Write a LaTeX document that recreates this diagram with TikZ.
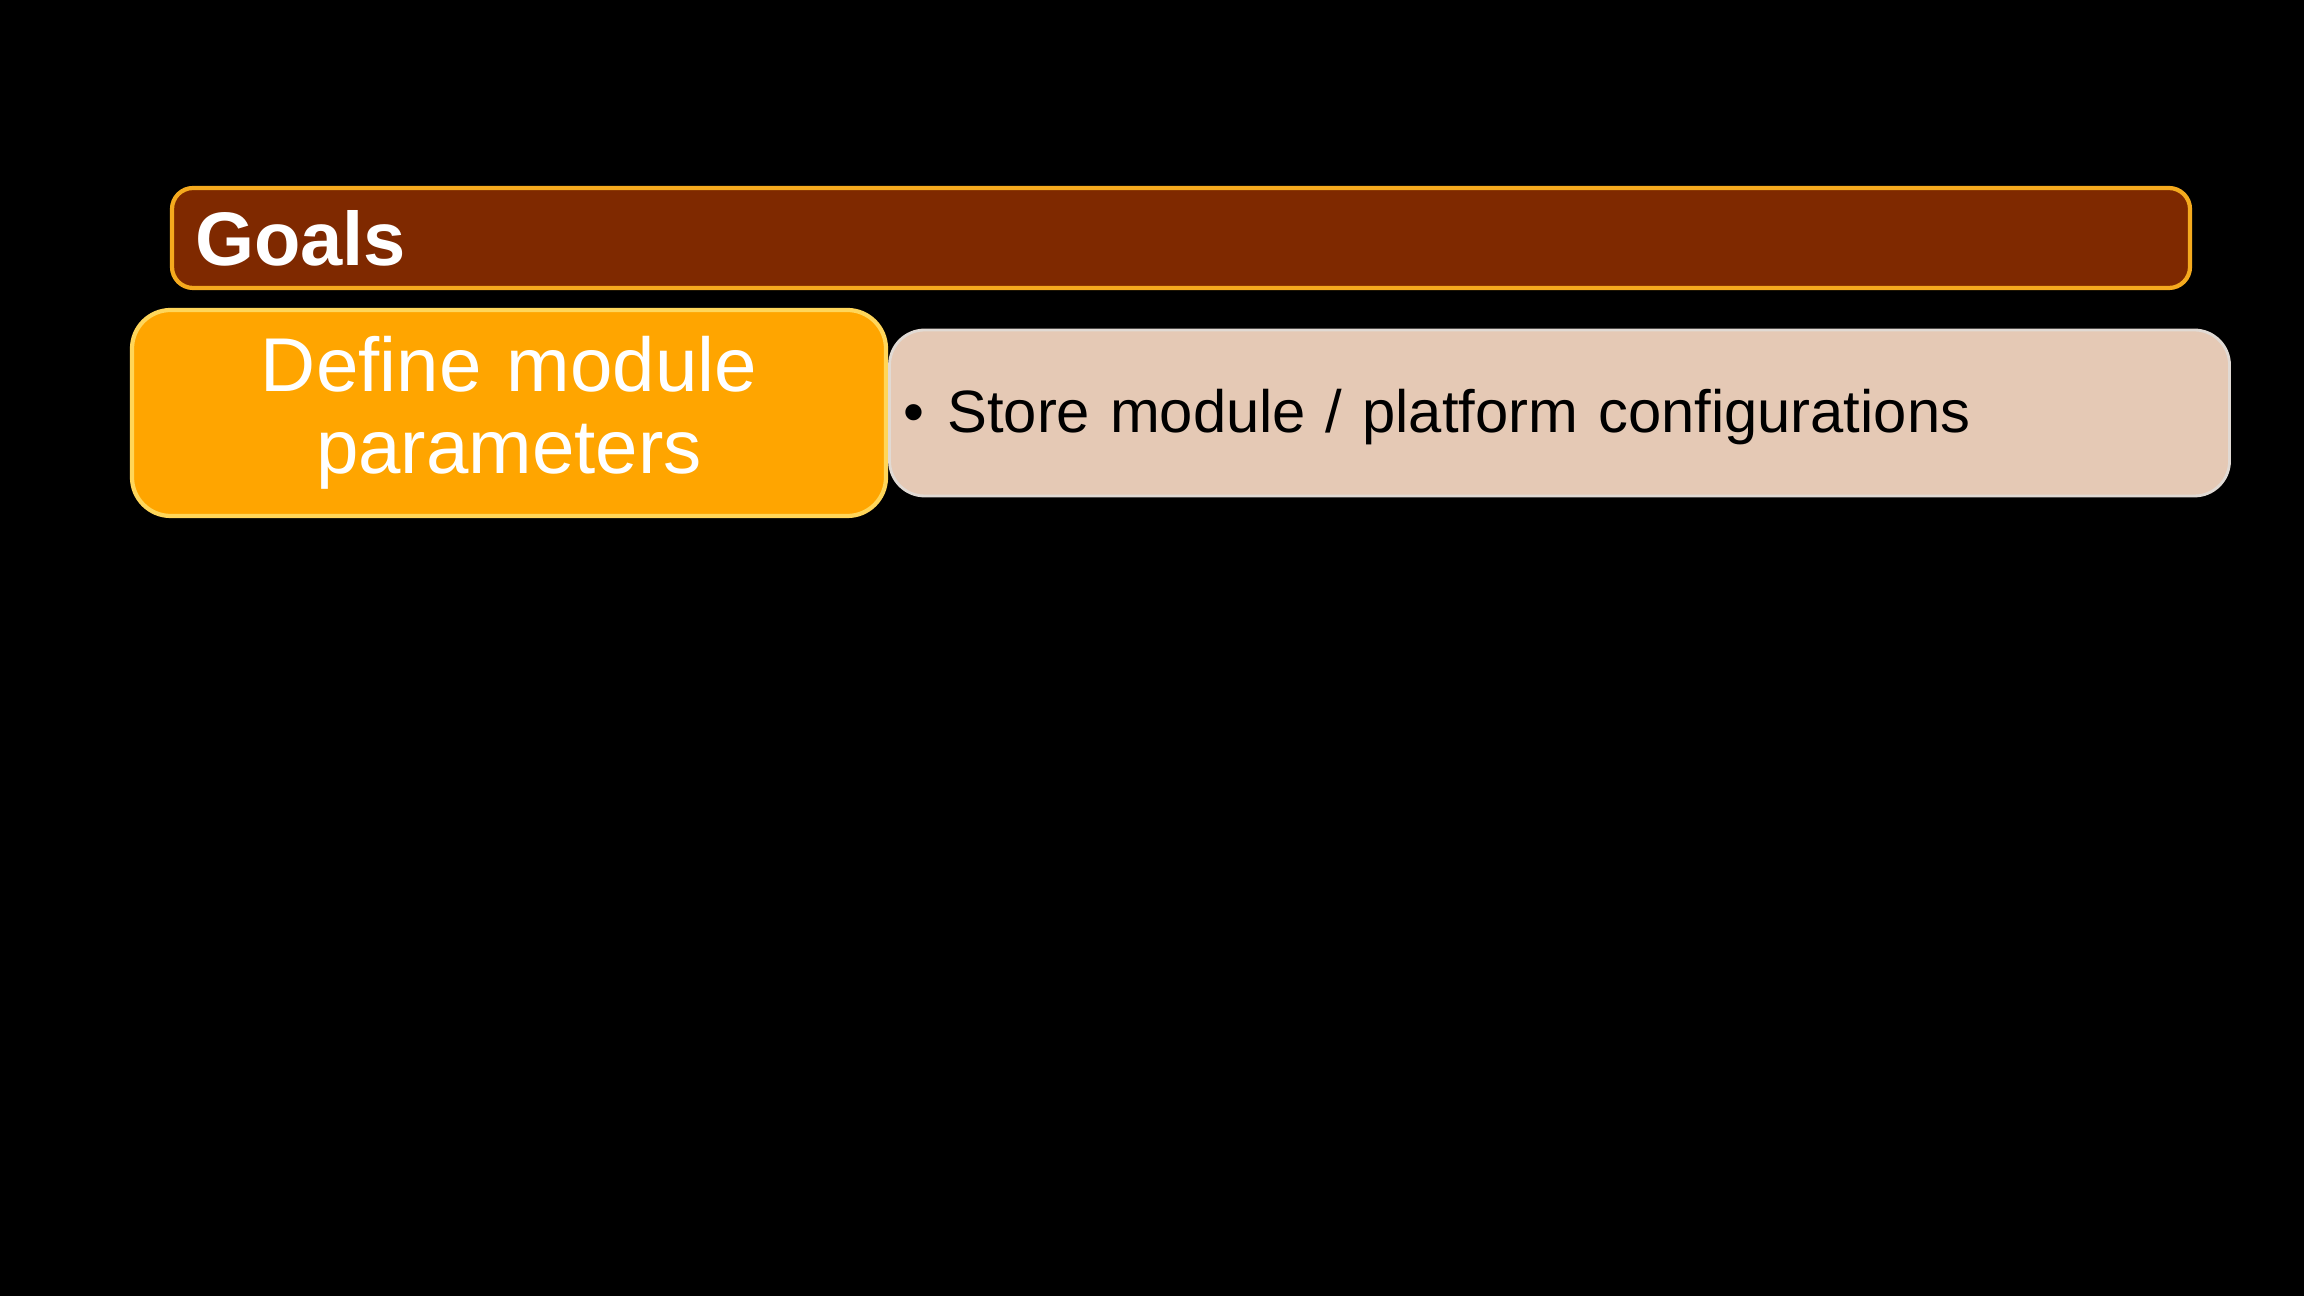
\documentclass[tikz,border=0pt]{standalone}
\definecolor{goalbrown}{RGB}{127, 41, 0}
\definecolor{goalgold}{RGB}{245, 170, 30}
\definecolor{defineorange}{RGB}{255, 165, 0}
\definecolor{defineyellow}{RGB}{255, 214, 90}
\definecolor{storebeige}{RGB}{229, 201, 181}
\definecolor{storeedge}{RGB}{225, 218, 212}
\usepackage{fontspec}
\setmainfont{Liberation Sans}
\usepackage{tikz}
\usetikzlibrary{positioning}

\begin{document}
\begin{tikzpicture}
  \fill[black] (0,0) rectangle (23.04,12.96);
  \useasboundingbox (0,0) rectangle (23.04,12.96);

  \node[draw=goalgold, fill=goalbrown, line width=1.2pt, rounded corners=6pt, text width=19.72cm, align=left, inner xsep=0.23cm, minimum height=1.0cm, text=white, font=\fontsize{21.6}{26}\selectfont\bfseries] (goals) at (11.81,10.58) {Goals};

  \node[draw=defineyellow, fill=defineorange, line width=1.2pt, rounded corners=11pt, text width=7.34cm, align=center, inner xsep=0.1cm, minimum height=2.06cm, text=white, font=\fontsize{21.7}{23.2}\selectfont] (define) at (5.09,8.83) {Define module\\parameters};

  \node[draw=storeedge, fill=storebeige, line width=0.8pt, rounded corners=10pt, text width=13.12cm, align=left, inner xsep=0.14cm, minimum height=1.66cm, text height=0.5cm, text depth=0.1cm, text=black, font=\fontsize{17.0}{21}\selectfont, right=0cm of define] (store) {\textbullet\hspace{0.23cm}Store module / platform configurations};
\end{tikzpicture}
\end{document}
